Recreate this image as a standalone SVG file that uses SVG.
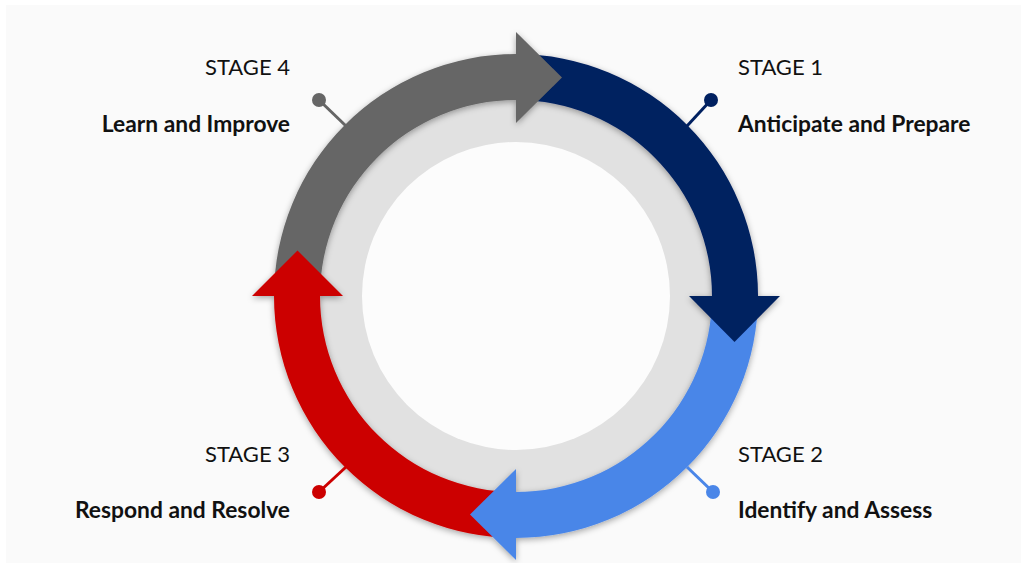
<svg xmlns="http://www.w3.org/2000/svg" width="1021" height="563" viewBox="0 0 1021 563">
  <defs>
    <style>
      .stage { font-family: Lato, "Liberation Sans", sans-serif; font-size: 22px; fill: #111111; }
      .title { font-family: Lato, "Liberation Sans", sans-serif; font-size: 22.8px; font-weight: 700; fill: #111111; }
      .lead { stroke-width: 3; fill: none; }
    </style>
    <filter id="shadow" x="-20%" y="-20%" width="140%" height="140%">
      <feDropShadow dx="0" dy="2" stdDeviation="3" flood-color="#000000" flood-opacity="0.35"/>
    </filter>
  </defs>
  <rect x="0" y="0" width="1021" height="563" fill="#ffffff"/>
  <rect x="6" y="5" width="1015" height="558" fill="#fafafa"/>

  <g id="ring">
    <circle cx="516" cy="296" r="198" fill="#e1e1e1"/>
    <circle cx="516" cy="296" r="154" fill="#fcfcfc"/>
  </g>

  <g id="connectors" filter="url(#shadow)">
    <path id="band-stage4" d="M 274 296 A 242 242 0 0 1 516 54 L 516 100 A 196 196 0 0 0 320 296 Z" fill="#666666"/>
    <path id="band-stage1" d="M 516 54 A 242 242 0 0 1 758 296 L 712 296 A 196 196 0 0 0 516 100 Z" fill="#002060"/>
    <path id="band-stage2" d="M 758 296 A 242 242 0 0 1 516 538 L 516 492 A 196 196 0 0 0 712 296 Z" fill="#4a86e8"/>
    <path id="band-stage3" d="M 516 538 A 242 242 0 0 1 274 296 L 320 296 A 196 196 0 0 0 516 492 Z" fill="#cc0000"/>
    <path id="head-stage4" d="M 516 32 L 562 77.5 L 516 123 Z" fill="#666666"/>
    <path id="head-stage1" d="M 689 296 L 734.5 342 L 780 296 Z" fill="#002060"/>
    <path id="head-stage2" d="M 516 469 L 470 514.5 L 516 560 Z" fill="#4a86e8"/>
    <path id="head-stage3" d="M 252 296 L 297.5 250.5 L 343 296 Z" fill="#cc0000"/>
  </g>

  <g id="stage1">
    <line class="lead" x1="687" y1="126" x2="711" y2="100" stroke="#002060"/>
    <circle cx="711" cy="100" r="7" fill="#002060"/>
    <text class="stage" x="738" y="75">STAGE 1</text>
    <text class="title" x="738" y="132">Anticipate and Prepare</text>
  </g>

  <g id="stage2">
    <line class="lead" x1="687" y1="467" x2="713" y2="492" stroke="#4a86e8"/>
    <circle cx="713" cy="492" r="7" fill="#4a86e8"/>
    <text class="stage" x="738" y="462">STAGE 2</text>
    <text class="title" x="738" y="518">Identify and Assess</text>
  </g>

  <g id="stage3">
    <line class="lead" x1="346" y1="467" x2="319" y2="492" stroke="#cc0000"/>
    <circle cx="319" cy="492" r="7" fill="#cc0000"/>
    <text class="stage" x="290" y="462" text-anchor="end">STAGE 3</text>
    <text class="title" x="290" y="518" text-anchor="end">Respond and Resolve</text>
  </g>

  <g id="stage4">
    <line class="lead" x1="346" y1="126" x2="319" y2="100" stroke="#666666"/>
    <circle cx="319" cy="100" r="7" fill="#666666"/>
    <text class="stage" x="290" y="75" text-anchor="end">STAGE 4</text>
    <text class="title" x="290" y="132" text-anchor="end">Learn and Improve</text>
  </g>
</svg>
